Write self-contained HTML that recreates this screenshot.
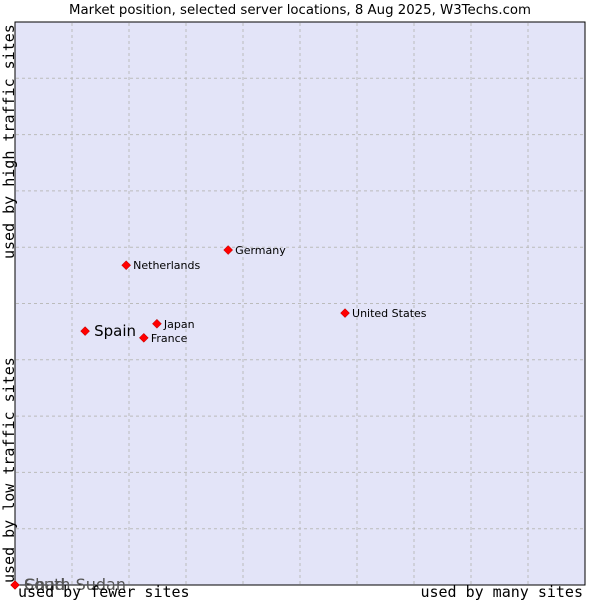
<!DOCTYPE html>
<html><head><meta charset="utf-8"><style>
body{margin:0;background:#fff;}
svg{display:block;font-family:"DejaVu Sans","Liberation Sans",sans-serif;}
</style></head><body>
<svg id="c" width="600" height="600">
<text x="300" y="14" text-anchor="middle" font-size="13.3" fill="#000">Market position, selected server locations, 8 Aug 2025, W3Techs.com</text>
<rect x="15" y="22" width="570" height="563" fill="#e3e4f8" stroke="#000" stroke-width="1"/>
<g id="grid"></g>
<g id="pts"></g>
<text transform="translate(14,259) rotate(-90)" font-family="DejaVu Sans Mono,Liberation Mono,monospace" font-size="15">used by high traffic sites</text>
<text transform="translate(14,583) rotate(-90)" font-family="DejaVu Sans Mono,Liberation Mono,monospace" font-size="15">used by low traffic sites</text>
<text x="18" y="597" font-family="DejaVu Sans Mono,Liberation Mono,monospace" font-size="15">used by fewer sites</text>
<text x="583" y="597" text-anchor="end" font-family="DejaVu Sans Mono,Liberation Mono,monospace" font-size="15">used by many sites</text>
</svg>
<script>
const names=["South Sudan","Chad","Spain","Netherlands","Germany","United States","Japan","France"];
const xs=[0,0,12.3,19.5,37.4,57.9,24.9,22.6];
const ys=[0,0,45.1,56.8,59.5,48.3,46.4,43.9];
const big=[true,true,true,false,false,false,false,false];
const NS="http://www.w3.org/2000/svg";
const X=v=>15+v*5.7, Y=v=>585-v*5.63;
const g=document.getElementById('grid');
for(let i=1;i<10;i++){
 let l=document.createElementNS(NS,'line');
 
 
 l.setAttribute('x1',X(i*10));l.setAttribute('x2',X(i*10));l.setAttribute('y1',23);l.setAttribute('y2',584);
 l.setAttribute('stroke','#bbb');l.setAttribute('stroke-dasharray','3,3');g.appendChild(l);
 let h=document.createElementNS(NS,'line');
 
 
 h.setAttribute('x1',16);h.setAttribute('x2',584);h.setAttribute('y1',Y(i*10));h.setAttribute('y2',Y(i*10));
 h.setAttribute('stroke','#bbb');h.setAttribute('stroke-dasharray','3,3');g.appendChild(h);
}
const p=document.getElementById('pts');
names.forEach((n,i)=>{
 const cx=X(xs[i]),cy=Y(ys[i]);
 const d=document.createElementNS(NS,'path');
 
 
 d.setAttribute('d',`M${cx} ${cy-4.5}L${cx+4.5} ${cy}L${cx} ${cy+4.5}L${cx-4.5} ${cy}Z`);
 d.setAttribute('fill','#f00');d.setAttribute('stroke','#a00');d.setAttribute('stroke-width','0.5');
 p.appendChild(d);
 const t=document.createElementNS(NS,'text');
 
 
 const corner=(xs[i]==0&&ys[i]==0);
 t.setAttribute('x',cx+(big[i]?9:7));t.setAttribute('y',cy+(big[i]?5:4));
 t.setAttribute('font-size',corner?16:(big[i]?15:11));
 t.setAttribute('fill',corner?'#555':'#000');
 t.textContent=n;p.appendChild(t);
});
</script>
</body></html>
